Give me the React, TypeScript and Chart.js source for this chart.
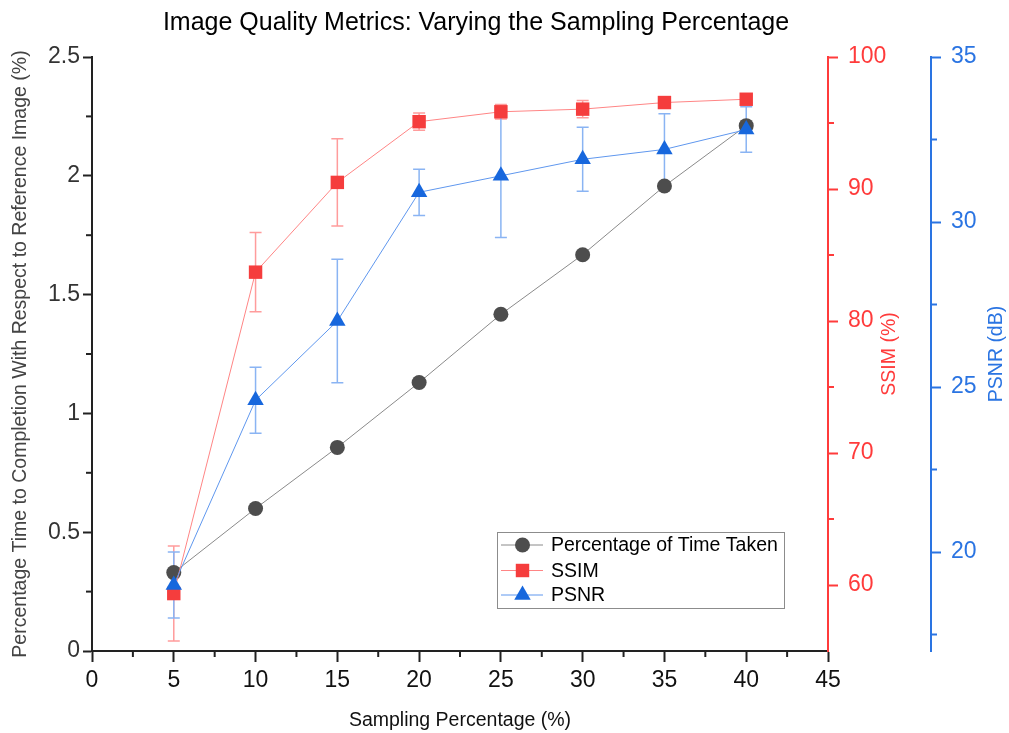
import React, { useEffect, useRef } from 'react';
import { Chart, registerables } from 'chart.js';
import { drawPoint } from 'chart.js/helpers';

Chart.register(...registerables);

// ---- data ----
const samplingPct = [5, 10, 15, 20, 25, 30, 35, 40];
const timeTaken = [0.33, 0.6, 0.857, 1.13, 1.417, 1.668, 1.957, 2.211];
const ssimValues = [59.35, 83.7, 90.5, 95.1, 95.85, 96.05, 96.55, 96.8];
const ssimErrors = [3.6, 3.0, 3.3, 0.65, 0.55, 0.65, 0.3, 0.25];
const psnrValues = [19.0, 24.6, 27.0, 30.9, 31.4, 31.9, 32.2, 32.8];
const psnrErrors = [1.0, 1.0, 1.87, 0.7, 1.87, 0.97, 1.08, 0.69];

const xMinorTicks = [2.5, 7.5, 12.5, 17.5, 22.5, 27.5, 32.5, 37.5, 42.5];
const timeMinorTicks = [0.25, 0.75, 1.25, 1.75, 2.25];
const ssimMinorTicks = [65, 75, 85, 95];
const psnrMinorTicks = [17.5, 22.5, 27.5, 32.5];

const seriesLabels = ['Percentage of Time Taken', 'SSIM', 'PSNR'];
const chartTitle = 'Image Quality Metrics: Varying the Sampling Percentage';
const xTitle = 'Sampling Percentage (%)';
const yTitle = 'Percentage Time to Completion With Respect to Reference Image (%)';
const ssimTitle = 'SSIM (%)';
const psnrTitle = 'PSNR (dB)';

const FONT = '"Liberation Sans", Arial, sans-serif';
const RED = '#ff3b3b';
const BLUE = '#2a74e2';
const DARK = '#222222';

const TIME_MARK = '#4d4d4d';
const TIME_LINE = '#8a8a8a';
const SSIM_MARK = '#f53d3d';
const SSIM_LINE = '#ff8585';
const SSIM_ERR = '#ff9c9c';
const PSNR_MARK = '#1767dd';
const PSNR_LINE = '#5f97ee';
const PSNR_ERR = '#8ab4f3';

const errorBarPlugin = {
  id: 'errorBars',
  beforeDatasetsDraw(chart: any) {
    const { ctx, scales } = chart;
    const specs = [
      { vals: ssimValues, errs: ssimErrors, axis: 'ssim', color: SSIM_ERR },
      { vals: psnrValues, errs: psnrErrors, axis: 'psnr', color: PSNR_ERR },
    ];
    ctx.save();
    ctx.lineWidth = 1.5;
    for (const s of specs) {
      const ys = scales[s.axis];
      ctx.strokeStyle = s.color;
      s.vals.forEach((v, i) => {
        const x = scales.x.getPixelForValue(samplingPct[i]);
        const t = ys.getPixelForValue(v + s.errs[i]);
        const b = ys.getPixelForValue(v - s.errs[i]);
        ctx.beginPath();
        ctx.moveTo(x, t);
        ctx.lineTo(x, b);
        ctx.moveTo(x - 6, t);
        ctx.lineTo(x + 6, t);
        ctx.moveTo(x - 6, b);
        ctx.lineTo(x + 6, b);
        ctx.stroke();
      });
    }
    ctx.restore();
  },
};

const decorPlugin = {
  id: 'decor',
  afterDraw(chart: any) {
    const { ctx, scales, chartArea } = chart;
    ctx.save();
    // minor ticks
    const minor = (vals: number[], scale: any, color: string, horiz: boolean, base: number, dir: number) => {
      ctx.strokeStyle = color;
      ctx.lineWidth = 2;
      vals.forEach((v) => {
        const p = scale.getPixelForValue(v);
        ctx.beginPath();
        if (horiz) {
          ctx.moveTo(p, base);
          ctx.lineTo(p, base + dir * 6);
        } else {
          ctx.moveTo(base, p);
          ctx.lineTo(base + dir * 6, p);
        }
        ctx.stroke();
      });
    };
    minor(xMinorTicks, scales.x, DARK, true, chartArea.bottom, 1);
    minor(timeMinorTicks, scales.y, DARK, false, chartArea.left, -1);
    minor(ssimMinorTicks, scales.ssim, RED, false, scales.ssim.left, 1);
    minor(psnrMinorTicks, scales.psnr, BLUE, false, scales.psnr.left, 1);

    // titles
    const text = (s: string, x: number, y: number, size: number, color: string, rot: number) => {
      ctx.save();
      ctx.translate(x, y);
      ctx.rotate(rot);
      ctx.font = `${size}px ${FONT}`;
      ctx.fillStyle = color;
      ctx.textAlign = 'center';
      ctx.textBaseline = 'middle';
      ctx.fillText(s, 0, 0);
      ctx.restore();
    };
    const midY = (chartArea.top + chartArea.bottom) / 2;
    const midX = (chartArea.left + chartArea.right) / 2;
    text(chartTitle, 476, 23, 25, '#000', 0);
    text(xTitle, midX, 721, 19.5, '#111', 0);
    text(yTitle, 21, midY, 19.5, '#444', -Math.PI / 2);
    text(ssimTitle, 890, midY, 19.5, RED, -Math.PI / 2);
    text(psnrTitle, 997, midY, 19.5, BLUE, -Math.PI / 2);

    // legend
    const bx = 497, by = 532, bw = 287, bh = 76;
    ctx.strokeStyle = '#8c8c8c';
    ctx.lineWidth = 1;
    ctx.strokeRect(bx + 0.5, by + 0.5, bw, bh);
    const rows = [
      { y: 545, line: TIME_LINE, mark: TIME_MARK, style: 'circle', r: 7.5 },
      { y: 570.5, line: SSIM_LINE, mark: SSIM_MARK, style: 'rect', r: 9.5 },
      { y: 595, line: PSNR_LINE, mark: PSNR_MARK, style: 'triangle', r: 9.5 },
    ];
    rows.forEach((row, i) => {
      ctx.strokeStyle = row.line;
      ctx.lineWidth = 1;
      ctx.beginPath();
      ctx.moveTo(501, row.y);
      ctx.lineTo(543, row.y);
      ctx.stroke();
      ctx.fillStyle = row.mark;
      ctx.strokeStyle = row.mark;
      drawPoint(ctx, { pointStyle: row.style as any, radius: row.r, rotation: 0, borderWidth: 0 }, 522.5, row.y);
      ctx.font = `19.5px ${FONT}`;
      ctx.fillStyle = '#000';
      ctx.textAlign = 'left';
      ctx.textBaseline = 'middle';
      ctx.fillText(seriesLabels[i], 551, row.y + 1);
    });
    ctx.restore();
  },
};

export default function App() {
  const ref = useRef<HTMLCanvasElement>(null);
  useEffect(() => {
    document.body.style.margin = '0';
    const canvas = ref.current;
    if (!canvas) return;
    const pts = (vals: number[]) => samplingPct.map((x, i) => ({ x, y: vals[i] }));
    const tickFont = { family: FONT, size: 23 };
    const chart = new Chart(canvas, {
      type: 'line',
      data: {
        datasets: [
          {
            label: seriesLabels[0],
            data: pts(timeTaken),
            yAxisID: 'y',
            borderColor: TIME_LINE,
            borderWidth: 1,
            pointStyle: 'circle',
            pointRadius: 7.5,
            pointBackgroundColor: TIME_MARK,
            pointBorderColor: TIME_MARK,
            pointBorderWidth: 0,
            order: 3,
          },
          {
            label: seriesLabels[1],
            data: pts(ssimValues),
            yAxisID: 'ssim',
            borderColor: SSIM_LINE,
            borderWidth: 1,
            pointStyle: 'rect',
            pointRadius: 9.5,
            pointBackgroundColor: SSIM_MARK,
            pointBorderColor: SSIM_MARK,
            pointBorderWidth: 0,
            order: 2,
          },
          {
            label: seriesLabels[2],
            data: pts(psnrValues),
            yAxisID: 'psnr',
            borderColor: PSNR_LINE,
            borderWidth: 1,
            pointStyle: 'triangle',
            pointRadius: 9.5,
            pointBackgroundColor: PSNR_MARK,
            pointBorderColor: PSNR_MARK,
            pointBorderWidth: 0,
            order: 1,
          },
        ],
      },
      options: {
        responsive: true,
        maintainAspectRatio: false,
        animation: false,
        events: [],
        layout: { padding: { top: 57, left: 0, right: 0, bottom: 0 } },
        plugins: {
          legend: { display: false },
          tooltip: { enabled: false },
          title: { display: false },
        },
        scales: {
          x: {
            type: 'linear',
            position: 'bottom',
            min: 0,
            max: 45,
            ticks: { stepSize: 5, font: tickFont, color: '#111', padding: 5, maxRotation: 0, autoSkip: false },
            grid: { drawOnChartArea: false, drawTicks: true, tickLength: 11, tickWidth: 2, tickColor: DARK },
            border: { color: DARK, width: 2 },
            afterFit: (s: any) => { s.height = 82; },
          },
          y: {
            type: 'linear',
            position: 'left',
            min: 0,
            max: 2.5,
            ticks: {
              stepSize: 0.5,
              font: tickFont,
              color: '#333',
              padding: 3,
              callback: (v: any) => String(Math.round(Number(v) * 100) / 100),
            },
            grid: { drawOnChartArea: false, drawTicks: true, tickLength: 9, tickWidth: 2, tickColor: DARK },
            border: { color: DARK, width: 2 },
            afterFit: (s: any) => { s.width = 92; },
          },
          ssim: {
            type: 'linear',
            position: 'right',
            weight: 0,
            min: 55,
            max: 100,
            ticks: { stepSize: 10, font: tickFont, color: RED, padding: 10 },
            grid: { drawOnChartArea: false, drawTicks: true, tickLength: 10, tickWidth: 2, tickColor: RED },
            border: { color: RED, width: 2 },
            afterBuildTicks: (s: any) => { s.ticks = s.ticks.filter((t: any) => t.value % 10 === 0); },
            afterFit: (s: any) => { s.width = 103; },
          },
          psnr: {
            type: 'linear',
            position: 'right',
            weight: 1,
            min: 17,
            max: 35,
            ticks: { stepSize: 5, font: tickFont, color: BLUE, padding: 10 },
            grid: { drawOnChartArea: false, drawTicks: true, tickLength: 10, tickWidth: 2, tickColor: BLUE },
            border: { color: BLUE, width: 2 },
            afterBuildTicks: (s: any) => { s.ticks = s.ticks.filter((t: any) => t.value % 5 === 0); },
            afterFit: (s: any) => { s.width = 78; },
          },
        },
      } as any,
      plugins: [errorBarPlugin, decorPlugin],
    });
    return () => chart.destroy();
  }, []);
  return (
    <div style={{ position: 'relative', width: 1009, height: 733 }}>
      <canvas ref={ref} />
    </div>
  );
}
